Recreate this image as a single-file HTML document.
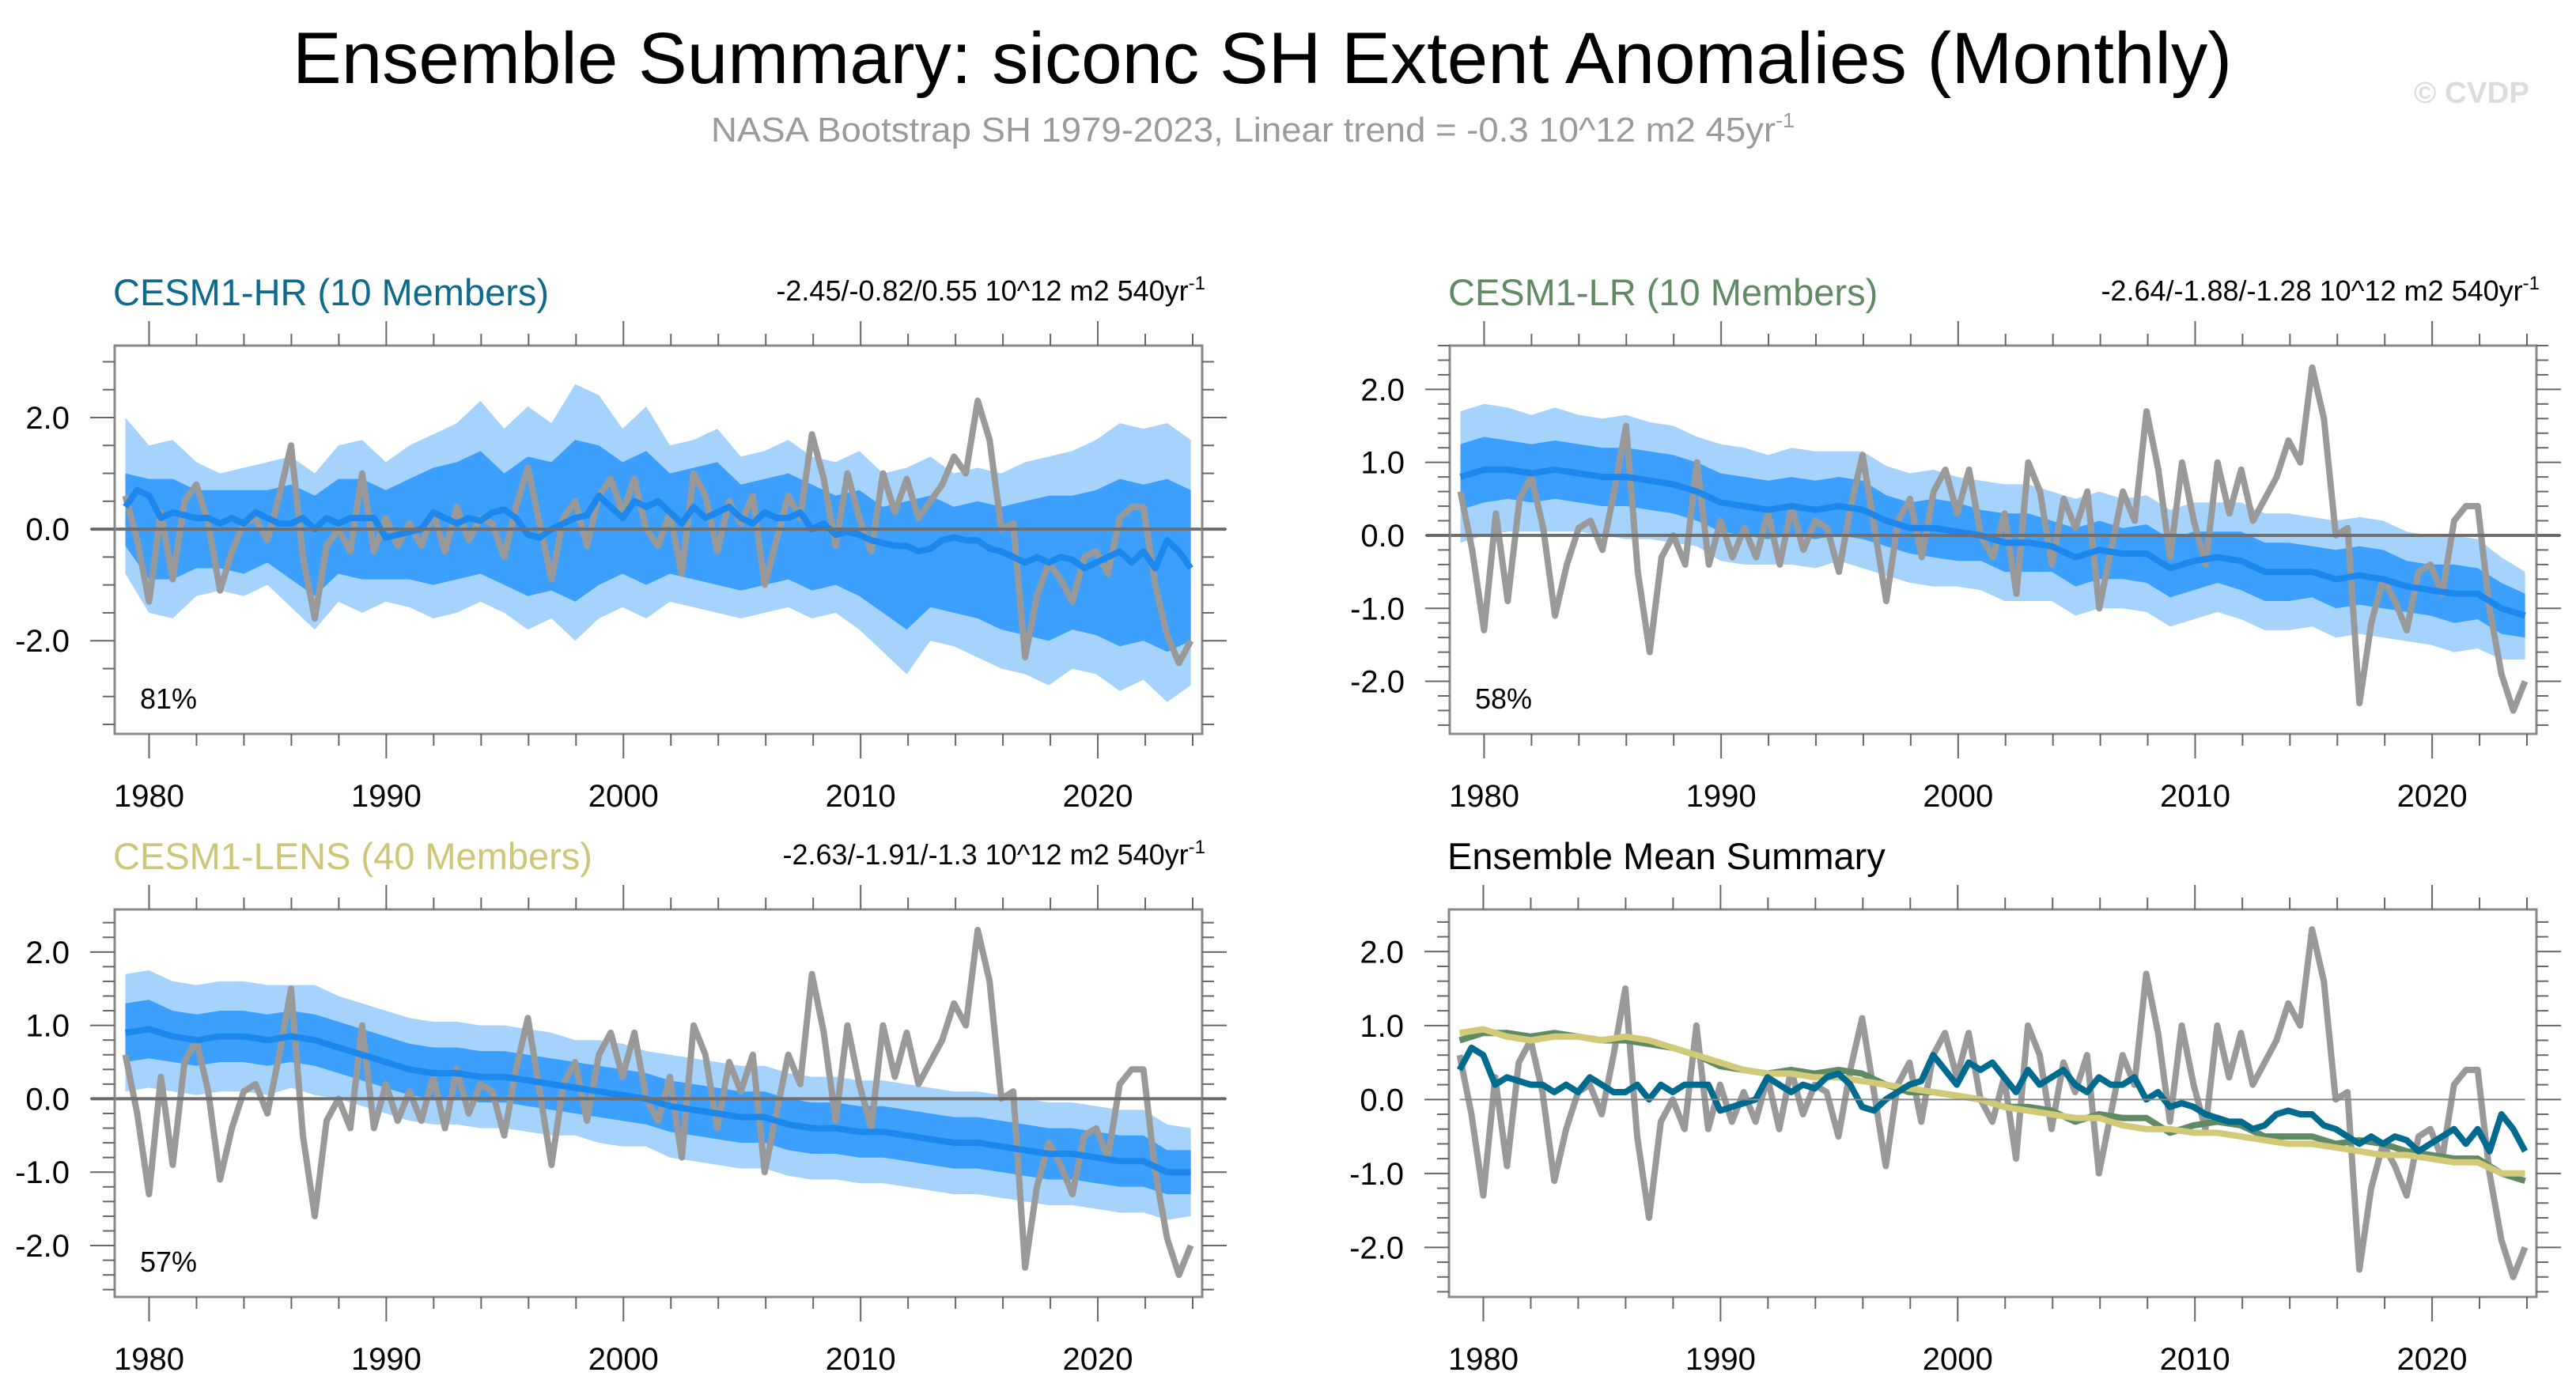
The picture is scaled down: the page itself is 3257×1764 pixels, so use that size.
<!DOCTYPE html>
<html><head><meta charset="utf-8"><title>Ensemble Summary</title>
<style>html,body{margin:0;padding:0;background:#fff}svg{display:block}text{font-family:"Liberation Sans",sans-serif}</style>
</head><body>
<svg id="fig" xmlns="http://www.w3.org/2000/svg" width="3257" height="1764" viewBox="0 0 3257 1764">
<text x="370" y="105" font-size="92" textLength="2452" lengthAdjust="spacingAndGlyphs">Ensemble Summary: siconc SH Extent Anomalies (Monthly)</text>
<text x="899" y="179" font-size="44" fill="#9a9a9a" textLength="1370" lengthAdjust="spacingAndGlyphs">NASA Bootstrap SH 1979-2023, Linear trend = -0.3 10^12 m2 45yr<tspan dy="-18" font-size="26">-1</tspan></text>
<text x="3052" y="130" font-size="38" fill="#dcdcdc" font-weight="bold" textLength="146" lengthAdjust="spacingAndGlyphs">© CVDP</text>
<g id="plots"></g>
</svg>
<script>
// Observations (NASA Bootstrap), semi-annual samples 1979.0 .. 2023.9
const obs = [0.6,-0.2,-1.3,0.3,-0.9,0.5,0.8,0.1,-1.1,-0.4,
 0.1,0.2,-0.2,0.6,1.5,-0.5,-1.6,-0.3,0.0,-0.4,
 1.0,-0.4,0.2,-0.3,0.1,-0.3,0.3,-0.4,0.4,-0.2,
 0.2,0.1,-0.5,0.4,1.1,0.1,-0.9,0.2,0.5,-0.3,
 0.6,0.9,0.3,0.9,0.0,-0.3,0.3,-0.8,1.0,0.6,
 -0.4,0.5,0.1,0.6,-1.0,-0.2,0.6,0.2,1.7,0.9,
 -0.3,1.0,0.2,-0.4,1.0,0.3,0.9,0.2,0.5,0.8,
 1.3,1.0,2.3,1.6,0.0,0.1,-2.3,-1.2,-0.6,-0.9,
 -1.3,-0.5,-0.4,-0.8,0.2,0.4,0.4,-1.0,-1.9,-2.4,
 -2.0];
// CESM1-HR ensemble mean, semi-annual
const hrMean = [0.4,0.7,0.6,0.2,0.3,0.25,0.2,0.2,0.1,0.2,
 0.1,0.3,0.2,0.1,0.1,0.2,0.0,0.2,0.1,0.2,
 0.2,0.2,-0.15,-0.1,-0.05,0.0,0.3,0.2,0.1,0.2,
 0.15,0.3,0.35,0.2,-0.1,-0.15,0.0,0.1,0.2,0.25,
 0.6,0.4,0.2,0.5,0.4,0.5,0.3,0.1,0.4,0.2,
 0.3,0.4,0.2,0.1,0.3,0.2,0.2,0.3,0.0,0.1,
 -0.1,-0.05,-0.1,-0.2,-0.25,-0.3,-0.3,-0.4,-0.35,-0.2,
 -0.15,-0.2,-0.2,-0.35,-0.4,-0.5,-0.6,-0.5,-0.6,-0.5,
 -0.55,-0.7,-0.6,-0.5,-0.4,-0.6,-0.4,-0.7,-0.2,-0.4,
 -0.7];
// CESM1-HR spread bands, annual samples (46)
const hrLightHi = [2.0,1.5,1.6,1.2,1.0,1.1,1.2,1.3,1.0,1.5,1.6,1.2,1.5,1.7,1.9,2.3,1.8,2.2,1.9,2.6,2.4,1.8,2.2,1.5,1.6,1.8,1.3,1.4,1.6,1.3,1.2,1.4,1.0,1.1,1.3,1.0,1.1,1.0,1.2,1.3,1.4,1.6,1.9,1.8,1.9,1.6];
const hrLightLo = [-0.8,-1.5,-1.6,-1.2,-1.1,-1.2,-1.0,-1.4,-1.8,-1.3,-1.5,-1.3,-1.4,-1.6,-1.5,-1.3,-1.5,-1.8,-1.6,-2.0,-1.6,-1.4,-1.6,-1.3,-1.4,-1.5,-1.6,-1.5,-1.4,-1.6,-1.5,-1.8,-2.2,-2.6,-2.0,-2.1,-2.3,-2.5,-2.6,-2.8,-2.5,-2.6,-2.9,-2.7,-3.1,-2.8];
const hrDarkHi = [1.0,0.9,0.9,0.7,0.7,0.7,0.7,0.8,0.6,0.9,0.9,0.7,0.9,1.1,1.2,1.4,1.0,1.3,1.2,1.6,1.5,1.2,1.4,1.0,1.1,1.2,0.8,0.9,1.0,0.8,0.6,0.7,0.4,0.5,0.6,0.4,0.5,0.4,0.5,0.6,0.6,0.7,0.9,0.8,0.9,0.7];
const hrDarkLo = [-0.3,-0.9,-0.9,-0.7,-0.7,-0.8,-0.6,-0.9,-1.2,-0.8,-0.9,-0.9,-0.9,-1.0,-0.9,-0.8,-1.0,-1.2,-1.1,-1.3,-1.0,-0.8,-1.0,-0.8,-0.9,-1.0,-1.1,-1.0,-0.9,-1.1,-1.0,-1.2,-1.5,-1.8,-1.4,-1.5,-1.6,-1.8,-1.9,-2.0,-1.8,-1.9,-2.1,-2.0,-2.2,-2.0];
// CESM1-LR, annual
const lrMean = [0.8,0.9,0.9,0.85,0.9,0.85,0.8,0.8,0.75,0.7,0.6,0.45,0.4,0.35,0.4,0.35,0.4,0.35,0.2,0.1,0.1,0.05,0.0,-0.1,-0.1,-0.15,-0.3,-0.2,-0.25,-0.25,-0.45,-0.35,-0.3,-0.35,-0.5,-0.5,-0.5,-0.6,-0.55,-0.6,-0.7,-0.75,-0.8,-0.8,-1.0,-1.1];
const lrLightSpread = [0.9,0.9,0.85,0.8,0.85,0.8,0.8,0.85,0.8,0.8,0.75,0.8,0.8,0.75,0.8,0.8,0.75,0.8,0.75,0.75,0.8,0.75,0.75,0.8,0.8,0.75,0.8,0.8,0.75,0.8,0.8,0.8,0.75,0.8,0.8,0.8,0.75,0.8,0.8,0.8,0.75,0.75,0.8,0.75,0.7,0.6];
const lrDarkSpread = [0.45,0.45,0.4,0.4,0.4,0.4,0.4,0.4,0.4,0.4,0.4,0.4,0.4,0.4,0.4,0.4,0.4,0.4,0.35,0.35,0.4,0.4,0.35,0.4,0.4,0.35,0.4,0.4,0.35,0.4,0.4,0.4,0.35,0.4,0.4,0.4,0.35,0.4,0.4,0.4,0.35,0.35,0.4,0.35,0.35,0.3];
// CESM1-LENS, annual
const lensMean = [0.9,0.95,0.85,0.8,0.85,0.85,0.8,0.85,0.8,0.7,0.6,0.5,0.4,0.35,0.35,0.3,0.3,0.25,0.2,0.15,0.1,0.05,0.0,-0.1,-0.15,-0.2,-0.25,-0.25,-0.35,-0.4,-0.4,-0.45,-0.45,-0.5,-0.55,-0.6,-0.6,-0.65,-0.7,-0.75,-0.75,-0.8,-0.85,-0.85,-1.0,-1.0];
const lensLightSpread = [0.8,0.8,0.75,0.75,0.75,0.75,0.75,0.7,0.75,0.7,0.7,0.7,0.7,0.7,0.7,0.7,0.7,0.7,0.7,0.65,0.7,0.7,0.65,0.7,0.7,0.7,0.7,0.7,0.7,0.7,0.7,0.7,0.7,0.7,0.7,0.7,0.7,0.7,0.7,0.7,0.7,0.7,0.7,0.7,0.65,0.6];
const lensDarkSpread = [0.4,0.4,0.35,0.35,0.35,0.35,0.35,0.35,0.35,0.35,0.35,0.35,0.35,0.35,0.35,0.35,0.35,0.35,0.35,0.35,0.35,0.35,0.35,0.35,0.35,0.35,0.35,0.35,0.35,0.35,0.35,0.35,0.35,0.35,0.35,0.35,0.35,0.35,0.35,0.35,0.35,0.35,0.35,0.35,0.3,0.3];
const xTickYears = [1980,1990,2000,2010,2020];
const yTicksHR = [-2,0,2];
const yTicksOthers = [-2,-1,0,1,2];

const NS = "http://www.w3.org/2000/svg";
const root = document.getElementById('plots');
const T0 = 1979.0, T1 = 2023.92;
function tAt(i, n){ return T0 + i*(T1-T0)/(n-1); }
function mk(tag, attrs, parent){ const e=document.createElementNS(NS,tag); for(const k in attrs) e.setAttribute(k, attrs[k]); (parent||root).appendChild(e); return e; }

function panel(P){
  const g = mk('g',{});
  
  
  const X = t => P.x0 + (t-1978.55)/(2024.4-1978.55)*(P.x1-P.x0);
  const Y = v => P.y1 - (v-P.ymin)/(P.ymax-P.ymin)*(P.y1-P.y0);
  const clip = 'clip-'+P.name;
  const cp = mk('clipPath',{id:clip},g); mk('rect',{x:P.x0,y:P.y0,width:P.x1-P.x0,height:P.y1-P.y0},cp);
  const inner = mk('g',{'clip-path':'url(#'+clip+')'},g);
  function band(hi, lo, color, nm){
    let d='';
    for(let i=0;i<hi.length;i++) d += (i?'L':'M')+X(tAt(i,hi.length)).toFixed(1)+','+Y(hi[i]).toFixed(1);
    for(let i=lo.length-1;i>=0;i--) d += 'L'+X(tAt(i,lo.length)).toFixed(1)+','+Y(lo[i]).toFixed(1);
    const p = mk('path',{d:d+'Z',fill:color,stroke:'none'},inner);
    
    
  }
  function line(vals, color, w, nm){
    let d='';
    for(let i=0;i<vals.length;i++) d += (i?'L':'M')+X(tAt(i,vals.length)).toFixed(1)+','+Y(vals[i]).toFixed(1);
    const p = mk('path',{d:d,fill:'none',stroke:color,'stroke-width':w,'stroke-linejoin':'round'},inner);
    
    
  }
  if(P.bands){
    band(P.bands.lh, P.bands.ll, '#a6d3fc', 'spread-band-outer');
    band(P.bands.dh, P.bands.dl, '#3d9ffc', 'spread-band-inner');
  }
  if(P.thinZero){
    const z = mk('line',{x1:X(T0),x2:X(T1),y1:Y(0),y2:Y(0),stroke:'#888','stroke-width':2},g);
     
  } else {
    const z = mk('line',{x1:P.x0-30,x2:P.x1+30,y1:Y(0),y2:Y(0),stroke:'#6f6f6f','stroke-width':4},g);
     
  }
  line(obs,'#999999',8,'observed-line');
  P.lines.forEach(L => line(L.v, L.c, 8, L.n));
  const b = mk('rect',{x:P.x0,y:P.y0,width:P.x1-P.x0,height:P.y1-P.y0,fill:'none',stroke:'#888','stroke-width':3},g);
   
  for(let yr=1980; yr<=2024; yr+=2){
    const major = yr%10===0, x=X(yr), L = major?31:15;
    mk('line',{x1:x,x2:x,y1:P.y0,y2:P.y0-L,stroke:'#666','stroke-width':2},g);
    mk('line',{x1:x,x2:x,y1:P.y1,y2:P.y1+L,stroke:'#666','stroke-width':2},g);
  }
  xTickYears.forEach(yr=>{
    const t = mk('text',{x:X(yr),y:P.y1+92,'font-size':40,'text-anchor':'middle'},g);
    t.textContent = yr;
     
  });
  const step = P.minor;
  for(let v=Math.ceil(P.ymin/step)*step; v<=P.ymax; v+=step){
    const vv = Math.round(v*100)/100;
    const major = P.majors.indexOf(vv)>=0;
    const y=Y(vv), L = major?31:15;
    mk('line',{x1:P.x0,x2:P.x0-L,y1:y,y2:y,stroke:'#666','stroke-width':2},g);
    mk('line',{x1:P.x1,x2:P.x1+L,y1:y,y2:y,stroke:'#666','stroke-width':2},g);
  }
  P.majors.forEach(v=>{
    const t = mk('text',{x:P.x0-57,y:Y(v)+14,'font-size':40,'text-anchor':'end'},g);
    t.textContent = v.toFixed(1);
     
  });
  const tt = mk('text',{x:P.x0-2,y:P.y0-51,'font-size':47,fill:P.tcolor},g);
  tt.textContent = P.title;
   
  if(P.stats){
    const s = mk('text',{x:P.x1+4,y:P.y0-57,'font-size':36,'text-anchor':'end'},g);
    s.textContent = P.stats;
    const sp = mk('tspan',{dy:-14,'font-size':24},s); sp.textContent='-1';
     
  }
  if(P.pct){
    const p = mk('text',{x:P.x0+32,y:P.y1-32,'font-size':36},g);
    p.textContent = P.pct;
     
  }
}
function plus(m,s){ return m.map((v,i)=>v+s[i]); }
function minus(m,s){ return m.map((v,i)=>v-s[i]); }

panel({name:'panel-cesm1-hr',x0:145,x1:1520,y0:437,y1:928,ymin:-3.67,ymax:3.29,majors:yTicksHR,minor:0.5,
  title:'CESM1-HR (10 Members)',tcolor:'#0d6a8c',stats:'-2.45/-0.82/0.55 10^12 m2 540yr',pct:'81%',
  bands:{lh:hrLightHi,ll:hrLightLo,dh:hrDarkHi,dl:hrDarkLo},lines:[{v:hrMean,c:'#1c88ee',n:'ensemble-mean-line'}]});
panel({name:'panel-cesm1-lr',x0:1833,x1:3207,y0:437,y1:928,ymin:-2.72,ymax:2.6,majors:yTicksOthers,minor:0.2,
  title:'CESM1-LR (10 Members)',tcolor:'#5f8a64',stats:'-2.64/-1.88/-1.28 10^12 m2 540yr',pct:'58%',
  bands:{lh:plus(lrMean,lrLightSpread),ll:minus(lrMean,lrLightSpread),dh:plus(lrMean,lrDarkSpread),dl:minus(lrMean,lrDarkSpread)},
  lines:[{v:lrMean,c:'#1c88ee',n:'ensemble-mean-line'}]});
panel({name:'panel-cesm1-lens',x0:145,x1:1520,y0:1150,y1:1640,ymin:-2.7,ymax:2.58,majors:yTicksOthers,minor:0.2,
  title:'CESM1-LENS (40 Members)',tcolor:'#cfc577',stats:'-2.63/-1.91/-1.3 10^12 m2 540yr',pct:'57%',
  bands:{lh:plus(lensMean,lensLightSpread),ll:minus(lensMean,lensLightSpread),dh:plus(lensMean,lensDarkSpread),dl:minus(lensMean,lensDarkSpread)},
  lines:[{v:lensMean,c:'#1c88ee',n:'ensemble-mean-line'}]});
panel({name:'panel-ensemble-mean-summary',x0:1832,x1:3207,y0:1150,y1:1640,ymin:-2.67,ymax:2.57,majors:yTicksOthers,minor:0.2,
  title:'Ensemble Mean Summary',tcolor:'#000',thinZero:true,
  lines:[{v:lrMean,c:'#5f8a64',n:'cesm1-lr-mean-line'},{v:lensMean,c:'#d2c979',n:'cesm1-lens-mean-line'},{v:hrMean,c:'#006b8e',n:'cesm1-hr-mean-line'}]});
</script>
</body></html>
